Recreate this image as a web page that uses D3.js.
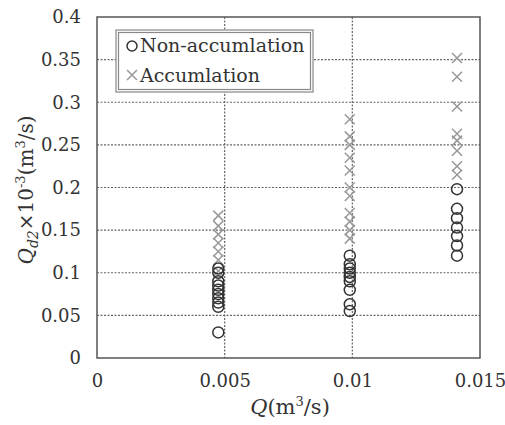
<!DOCTYPE html>
<html>
<head>
<meta charset="utf-8">
<script src="https://cdn.jsdelivr.net/npm/d3@7"></script>
<style>
  body { margin: 0; background: #fff; }
  svg text { font-family: "DejaVu Serif", serif !important; fill: #333; }
</style>
</head>
<body>
<svg width="505" height="425"></svg>
<script>
// values
var xTicks = [0, 0.005, 0.01, 0.015];
var yTicks = [0, 0.05, 0.1, 0.15, 0.2, 0.25, 0.3, 0.35, 0.4];

var nonQ = [0.00475, 0.00475, 0.00475, 0.00475, 0.00475, 0.00475, 0.00475, 0.00475, 0.00475, 0.00475,
            0.0099, 0.0099, 0.0099, 0.0099, 0.0099, 0.0099, 0.0099, 0.0099, 0.0099,
            0.0141, 0.0141, 0.0141, 0.0141, 0.0141, 0.0141, 0.0141];
var nonQd = [0.03, 0.06, 0.065, 0.07, 0.075, 0.08, 0.085, 0.09, 0.1, 0.105,
             0.055, 0.063, 0.08, 0.09, 0.095, 0.1, 0.105, 0.11, 0.12,
             0.12, 0.132, 0.143, 0.153, 0.164, 0.175, 0.198];

var accQ = [0.00475, 0.00475, 0.00475, 0.00475, 0.00475, 0.00475, 0.00475,
            0.0099, 0.0099, 0.0099, 0.0099, 0.0099, 0.0099, 0.0099, 0.0099, 0.0099, 0.0099, 0.0099,
            0.0141, 0.0141, 0.0141, 0.0141, 0.0141, 0.0141, 0.0141, 0.0141];
var accQd = [0.102, 0.115, 0.125, 0.135, 0.145, 0.155, 0.167,
             0.14, 0.15, 0.16, 0.17, 0.19, 0.2, 0.22, 0.235, 0.25, 0.26, 0.28,
             0.215, 0.225, 0.243, 0.255, 0.263, 0.295, 0.33, 0.352];

var svg = d3.select('svg'),
    margin = {top: 17, right: 25, bottom: 67, left: 97},
    width = +svg.attr('width') - margin.left - margin.right,
    height = +svg.attr('height') - margin.top - margin.bottom;

var x = d3.scaleLinear().domain([0, 0.015]).range([0, width]);
var y = d3.scaleLinear().domain([0, 0.4]).range([height, 0]);

var g = svg.append('g')
    .attr('transform', 'translate(' + margin.left + ',' + margin.top + ')');

// grid
g.selectAll('line.hgrid')
    .data(yTicks.slice(1, -1))
  .enter().append('line')
    .attr('class', 'hgrid')
    .attr('x1', 0).attr('x2', width)
    .attr('y1', function(d) { return y(d); })
    .attr('y2', function(d) { return y(d); })
    .attr('stroke', '#666').attr('stroke-width', 1.2)
    .attr('stroke-dasharray', '2,1.5');

g.selectAll('line.vgrid')
    .data(xTicks.slice(1, -1))
  .enter().append('line')
    .attr('class', 'vgrid')
    .attr('y1', 0).attr('y2', height)
    .attr('x1', function(d) { return x(d); })
    .attr('x2', function(d) { return x(d); })
    .attr('stroke', '#666').attr('stroke-width', 1.2)
    .attr('stroke-dasharray', '2,1.5');

// frame
g.append('rect')
    .attr('width', width).attr('height', height)
    .attr('fill', 'none').attr('stroke', '#555').attr('stroke-width', 1.5);

// axes (labels only)
var yAxis = g.append('g')
    .call(d3.axisLeft(y).tickValues(yTicks).tickSize(0).tickPadding(16)
      .tickFormat(function(d) { return String(+d.toFixed(3)); }));
yAxis.select('.domain').remove();
yAxis.selectAll('text').style('font-size', '18px').attr('fill', '#333');

var xAxis = g.append('g')
    .attr('transform', 'translate(0,' + height + ')')
    .call(d3.axisBottom(x).tickValues(xTicks).tickSize(0).tickPadding(16)
      .tickFormat(function(d) { return String(+d.toFixed(3)); }));
xAxis.select('.domain').remove();
xAxis.selectAll('text').style('font-size', '18px').attr('fill', '#333');

// points
var acc = accQ.map(function(q, i) { return [q, accQd[i]]; });
var non = nonQ.map(function(q, i) { return [q, nonQd[i]]; });

var s = 5;
g.selectAll('path.acc')
    .data(acc)
  .enter().append('path')
    .attr('class', 'acc')
    .attr('d', function(d) {
      var cx = x(d[0]), cy = y(d[1]);
      return 'M' + (cx - s) + ',' + (cy - s) + 'L' + (cx + s) + ',' + (cy + s) +
             'M' + (cx - s) + ',' + (cy + s) + 'L' + (cx + s) + ',' + (cy - s);
    })
    .attr('stroke', '#999').attr('stroke-width', 1.5).attr('fill', 'none');

g.selectAll('circle.non')
    .data(non)
  .enter().append('circle')
    .attr('class', 'non')
    .attr('cx', function(d) { return x(d[0]); })
    .attr('cy', function(d) { return y(d[1]); })
    .attr('r', 5.5)
    .attr('fill', 'none').attr('stroke', '#333').attr('stroke-width', 1.5);

// legend
var leg = svg.append('g').attr('transform', 'translate(116,30)');
leg.append('rect').attr('width', 197).attr('height', 62)
    .attr('fill', '#fff').attr('stroke', '#888').attr('stroke-width', 1.2);
leg.append('rect').attr('x', 2.5).attr('y', 2.5).attr('width', 192).attr('height', 57)
    .attr('fill', 'none').attr('stroke', '#888').attr('stroke-width', 1.2);
leg.append('circle').attr('cx', 16).attr('cy', 16).attr('r', 5)
    .attr('fill', 'none').attr('stroke', '#333').attr('stroke-width', 1.5);
leg.append('path').attr('d', 'M11,40L21,50M11,50L21,40')
    .attr('stroke', '#999').attr('stroke-width', 1.5);
leg.append('text').attr('x', 24).attr('y', 22).style('font-size', '19px').text('Non-accumlation');
leg.append('text').attr('x', 24).attr('y', 52).style('font-size', '19px').text('Accumlation');

// axis titles
var xt = svg.append('text')
    .attr('x', 290).attr('y', 414)
    .attr('text-anchor', 'middle').style('font-size', '21px');
xt.append('tspan').attr('font-style', 'italic').text('Q');
xt.append('tspan').text('(m');
xt.append('tspan').attr('dy', -8).style('font-size', '13px').text('3');
xt.append('tspan').attr('dy', 8).text('/s)');

var yt = svg.append('text')
    .attr('transform', 'translate(33,190) rotate(-90)')
    .attr('text-anchor', 'middle').style('font-size', '20px');
yt.append('tspan').attr('font-style', 'italic').text('Q');
yt.append('tspan').attr('font-style', 'italic').attr('dy', 5).style('font-size', '14px').text('d2');
yt.append('tspan').attr('dy', -5).text('×10');
yt.append('tspan').attr('dy', -8).style('font-size', '13px').text('-3');
yt.append('tspan').attr('dy', 8).text('(m');
yt.append('tspan').attr('dy', -8).style('font-size', '13px').text('3');
yt.append('tspan').attr('dy', 8).text('/s)');
</script>
</body>
</html>
